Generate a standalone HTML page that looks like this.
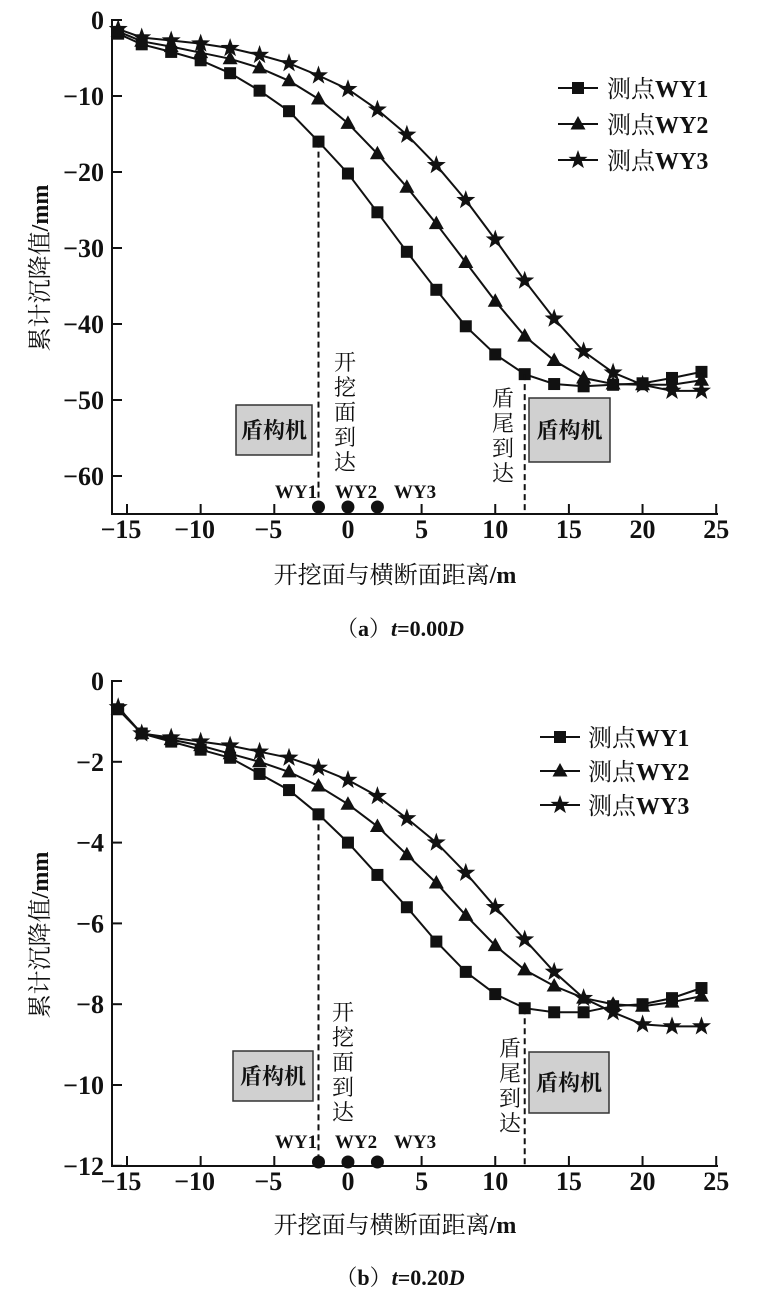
<!DOCTYPE html>
<html><head><meta charset="utf-8"><style>
html,body{margin:0;padding:0;background:#fff;}
svg{display:block;}
text{font-family:"Liberation Serif","Noto Serif CJK SC",serif;fill:#111;}
</style></head><body>
<svg id="s" width="759" height="1301" viewBox="0 0 759 1301" xmlns="http://www.w3.org/2000/svg"></svg>
<script>
const S=document.getElementById('s');let h='';
const xs=[-15.6,-14,-12,-10,-8,-6,-4,-2,0,2,4,6,8,10,12,14,16,18,20,22,24];
function X(v){return 127+(v+15)*14.73;}
function mk(t,x,y){
 if(t==0)return `<rect x="${x-6}" y="${y-6}" width="12" height="12" fill="#111"/>`;
 if(t==1)return `<polygon points="${x},${y-8} ${x-7.5},${y+5.5} ${x+7.5},${y+5.5}" fill="#111"/>`;
 let p=[];for(let i=0;i<10;i++){let r=i%2?4:10,a=-Math.PI/2+i*Math.PI/5;p.push((x+r*Math.cos(a)).toFixed(1)+','+(y+r*Math.sin(a)).toFixed(1));}
 return `<polygon points="${p.join(' ')}" fill="#111"/>`;
}
function chart(o){
 const Y=v=>o.y0+(-v)*o.k;
 h+=`<path d="M112,${o.y0-1} V${o.ax} H718" fill="none" stroke="#111" stroke-width="2"/>`;
 for(let t=-15;t<=25;t+=5){let x=X(t);h+=`<line x1="${x}" y1="${o.ax}" x2="${x}" y2="${o.ax-10}" stroke="#111" stroke-width="2"/>`;
  h+=`<text x="${x-(t<0?6:0)}" y="${o.ax+24}" font-size="26" font-weight="bold" text-anchor="middle">${t<0?'−'+(-t):t}</text>`;}
 for(const t of o.yt){let y=Y(t);h+=`<line x1="112" y1="${y}" x2="122" y2="${y}" stroke="#111" stroke-width="2"/>`;
  h+=`<text x="104" y="${y+9}" font-size="26" font-weight="bold" text-anchor="end">${t<0?'−'+(-t):t}</text>`;}
 o.d.forEach((arr,si)=>{let pts=arr.map((v,i)=>X(xs[i]).toFixed(1)+','+Y(v).toFixed(1)).join(' ');
  h+=`<polyline points="${pts}" fill="none" stroke="#111" stroke-width="2"/>`;});
 o.d.forEach((arr,si)=>{arr.forEach((v,i)=>{h+=mk(si,X(xs[i]),Y(v));});});
 h+=`<line x1="${X(-2)}" y1="${Y(o.d[0][7])}" x2="${X(-2)}" y2="${o.ax}" stroke="#111" stroke-width="2" stroke-dasharray="6,4"/>`;
 h+=`<line x1="${X(12)}" y1="${Y(o.d[0][14])}" x2="${X(12)}" y2="${o.ax}" stroke="#111" stroke-width="2" stroke-dasharray="6,4"/>`;
 for(const b of o.boxes){h+=`<rect x="${b[0]}" y="${b[1]}" width="${b[2]}" height="${b[3]}" fill="#d0d0d0" stroke="#333" stroke-width="1.5"/>`;
  h+=`<text x="${b[0]+b[2]/2}" y="${b[1]+b[3]/2+8}" font-size="22" font-weight="bold" text-anchor="middle">盾构机</text>`;}
 const vt=(s,x,y)=>{[...s].forEach((c,i)=>{h+=`<text x="${x}" y="${y+i*25}" font-size="22" text-anchor="middle">${c}</text>`;});};
 vt('开挖面到达',o.v1[0],o.v1[1]);vt('盾尾到达',o.v2[0],o.v2[1]);
 [['WY1',296],['WY2',356],['WY3',415]].forEach(a=>{h+=`<text x="${a[1]}" y="${o.wy}" font-size="19" font-weight="bold" text-anchor="middle">${a[0]}</text>`;});
 [-2,0,2].forEach(v=>{h+=`<circle cx="${X(v)}" cy="${o.dot}" r="6.5" fill="#111"/>`;});
 ['测点WY1','测点WY2','测点WY3'].forEach((s,i)=>{let y=o.lg[1]+i*o.lg[3];
  h+=`<line x1="${o.lg[0]}" y1="${y}" x2="${o.lg[0]+40}" y2="${y}" stroke="#111" stroke-width="2"/>`+mk(i,o.lg[0]+20,y);
  h+=`<text x="${o.lg[2]}" y="${y+9}" font-size="24">${s.slice(0,2)}<tspan font-weight="bold">${s.slice(2)}</tspan></text>`;});
 h+=`<text x="395" y="${o.xt}" font-size="24" text-anchor="middle">开挖面与横断面距离<tspan font-weight="bold">/m</tspan></text>`;
 h+=`<text transform="translate(48,${o.ytc}) rotate(-90)" font-size="24" text-anchor="middle">累计沉降值<tspan font-weight="bold">/mm</tspan></text>`;
 h+=`<text x="400" y="${o.cap}" font-size="22" text-anchor="middle">（<tspan font-weight="bold">${o.lab}</tspan>）<tspan font-weight="bold" font-style="italic">t</tspan><tspan font-weight="bold">=0.${o.c}</tspan><tspan font-weight="bold" font-style="italic">D</tspan></text>`;
}
chart({y0:20,k:7.6,ax:514,yt:[0,-10,-20,-30,-40,-50,-60],
 d:[[-1.8,-3.2,-4.2,-5.3,-7,-9.3,-12,-16,-20.2,-25.3,-30.5,-35.5,-40.3,-44,-46.6,-47.9,-48.2,-48,-47.8,-47.1,-46.3],
    [-1.5,-2.8,-3.5,-4.3,-5.1,-6.3,-8,-10.4,-13.6,-17.6,-22,-26.8,-31.9,-37,-41.6,-44.8,-47.1,-47.9,-48,-48,-47.4],
    [-1.2,-2.3,-2.7,-3.1,-3.7,-4.6,-5.7,-7.3,-9.1,-11.8,-15.1,-19.1,-23.7,-28.9,-34.3,-39.3,-43.6,-46.4,-48,-48.8,-48.8]],
 boxes:[[236,405,76,50],[529,398,81,64]],v1:[345,370],v2:[503,406],wy:498,dot:507,
 lg:[558,88,607,36],xt:583,ytc:268,cap:636,c:'00',lab:'a'});
chart({y0:681,k:40.4,ax:1166,yt:[0,-2,-4,-6,-8,-10,-12],
 d:[[-0.7,-1.3,-1.5,-1.7,-1.9,-2.3,-2.7,-3.3,-4.0,-4.8,-5.6,-6.45,-7.2,-7.75,-8.1,-8.2,-8.2,-8.05,-8.0,-7.85,-7.6],
    [-0.7,-1.3,-1.45,-1.6,-1.8,-2.0,-2.25,-2.6,-3.05,-3.6,-4.3,-5.0,-5.8,-6.55,-7.15,-7.55,-7.85,-8.0,-8.05,-7.95,-7.8],
    [-0.65,-1.3,-1.4,-1.5,-1.6,-1.75,-1.9,-2.15,-2.45,-2.85,-3.4,-4.0,-4.75,-5.6,-6.4,-7.2,-7.85,-8.2,-8.5,-8.55,-8.55]],
 boxes:[[233,1051,80,50],[529,1052,80,61]],v1:[343,1020],v2:[510,1056],wy:1148,dot:1162,
 lg:[540,737,588,34],xt:1233,ytc:935,cap:1285,c:'20',lab:'b'});
S.innerHTML=h;
</script>
</body></html>
